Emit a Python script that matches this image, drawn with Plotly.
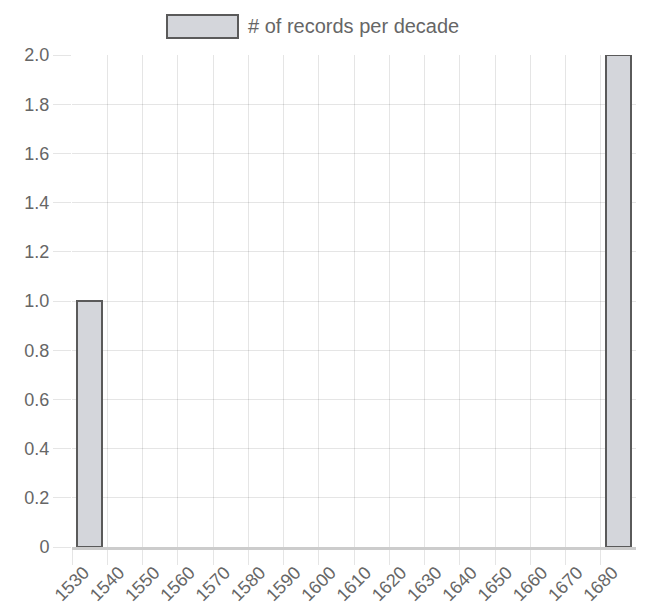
"""Records per decade — single-series bar chart, Chart.js look."""

import plotly.graph_objects as go

DECADES = ["1530", "1540", "1550", "1560", "1570", "1580", "1590", "1600",
           "1610", "1620", "1630", "1640", "1650", "1660", "1670", "1680"]
RECORDS = [1, 0, 0, 0, 0, 0, 0, 0, 0, 0, 0, 0, 0, 0, 0, 2]
SERIES_NAME = "# of records per decade"

Y_TICKS = [0, 0.2, 0.4, 0.6, 0.8, 1.0, 1.2, 1.4, 1.6, 1.8, 2.0]
Y_LABELS = ["0", "0.2", "0.4", "0.6", "0.8", "1.0", "1.2", "1.4", "1.6", "1.8", "2.0"]

C_FILL = "#d4d6db"
C_EDGE = "#5a5a5a"
C_GRID = "rgba(0,0,0,0.1)"
C_TEXT = "#666666"
FONT = "Liberation Sans, Helvetica, Arial, sans-serif"

# page body adds an 8px offset, margins are compensated for it
PLOT_W, PLOT_H = 564, 492

fig = go.Figure()
fig.add_trace(
    go.Bar(
        x=DECADES,
        y=RECORDS,
        name=SERIES_NAME,
        width=0.72,
        offset=0.14,
        marker=dict(
            color=C_FILL,
            # no outline on empty decades
            line=dict(color=C_EDGE, width=[2 if v else 0 for v in RECORDS]),
        ),
        showlegend=False,
    )
)

# Chart.js style legend: wide swatch box + label
fig.add_shape(
    type="rect", xref="paper", yref="paper",
    x0=(167 - 72) / PLOT_W, x1=(238 - 72) / PLOT_W,
    y0=1 + (55 - 38) / PLOT_H, y1=1 + (55 - 15) / PLOT_H,
    fillcolor=C_FILL, line=dict(color=C_EDGE, width=2),
)
fig.add_annotation(
    text=SERIES_NAME, xref="paper", yref="paper",
    x=(246 - 72) / PLOT_W, y=1 + (55 - 26) / PLOT_H,
    xanchor="left", yanchor="middle", showarrow=False,
    font=dict(family=FONT, size=20, color=C_TEXT),
)

fig.update_layout(
    width=647,
    height=612,
    margin=dict(l=64, r=19, t=47, b=73),
    plot_bgcolor="white",
    paper_bgcolor="white",
    font=dict(family=FONT, size=18, color=C_TEXT),
    bargap=0,
)
fig.update_xaxes(
    type="category",
    range=[0, 16],
    tickangle=-45,
    ticklabelshift=12,
    ticklabelstandoff=-10,
    automargin=False,
    showgrid=True, gridcolor=C_GRID, gridwidth=1,
    ticks="outside", ticklen=15, tickcolor=C_GRID,
    showline=True, linecolor="#cccccc", linewidth=3,
    zeroline=False,
)
fig.update_yaxes(
    range=[0, 2],
    automargin=False,
    tickvals=Y_TICKS,
    ticktext=Y_LABELS,
    showgrid=True, gridcolor=C_GRID, gridwidth=1,
    ticks="outside", ticklen=18, tickcolor=C_GRID,
    zeroline=False,
    showline=False,
)

fig.write_html("out.html")
